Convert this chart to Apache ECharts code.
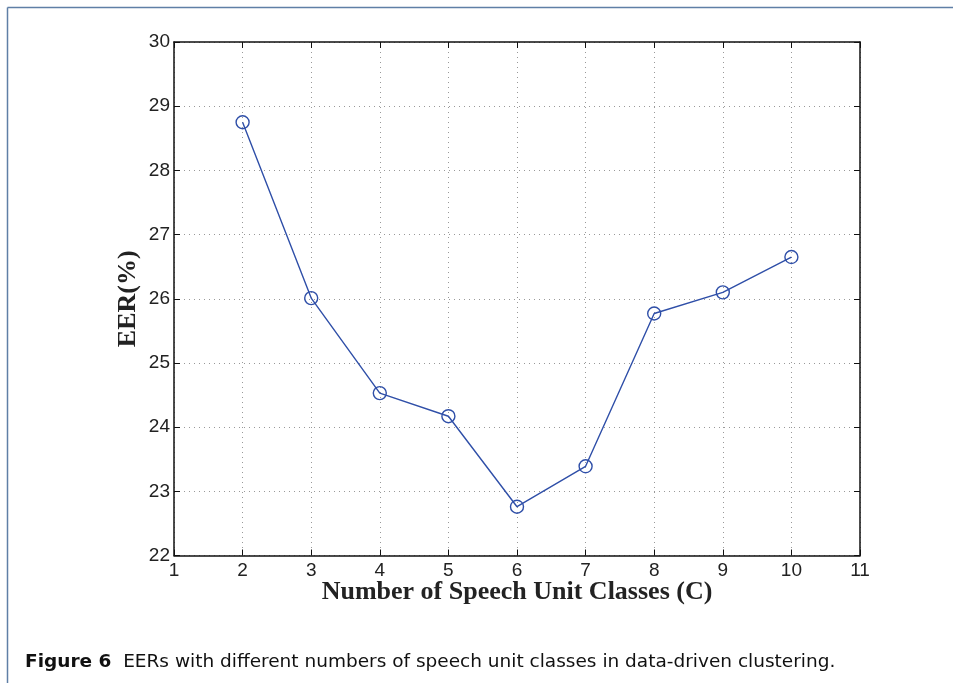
<!DOCTYPE html>
<html>
<head>
<meta charset="utf-8">
<script src="https://cdn.jsdelivr.net/npm/echarts@6/dist/echarts.min.js"></script>
<style>
  html, body { margin: 0; padding: 0; background: #fff; }
  #chart { width: 953px; height: 683px; }
</style>
</head>
<body>
<div id="chart"></div>
<script>
var chart = echarts.init(document.getElementById('chart'));

// number of speech unit classes (C) and EER(%)
var classes = [2, 3, 4, 5, 6, 7, 8, 9, 10];
var eer = [28.75, 26.01, 24.53, 24.17, 22.76, 23.39, 25.77, 26.10, 26.65];

var seriesData = classes.map(function (c, i) { return [c, eer[i]]; });

var tickFont = { fontFamily: 'Liberation Sans, Arial, sans-serif', fontSize: 19, color: '#222' };
var gridDots = { show: true, lineStyle: { color: '#999', type: [1, 4], width: 1 } };
var frameColor = '#5f7fa6';

var option = {
    backgroundColor: '#fff',
    animation: false,
    grid: { left: 174, right: 93, top: 42, bottom: 127.5, containLabel: false },
    xAxis: [
        {
            type: 'value', min: 1, max: 11, interval: 1,
            name: 'Number of Speech Unit Classes (C)',
            nameLocation: 'middle', nameGap: 24, nameMoveOverlap: false,
            nameTextStyle: { fontFamily: 'Liberation Serif, Times New Roman, serif', fontWeight: 'bold', fontSize: 26, color: '#222' },
            axisLine: { onZero: false, lineStyle: { color: '#111', width: 1.5 } },
            axisTick: { inside: true, length: 6, lineStyle: { color: '#111' } },
            axisLabel: Object.assign({ margin: 6 }, tickFont),
            splitLine: gridDots
        },
        {
            type: 'value', min: 1, max: 11, interval: 1, position: 'top',
            axisLine: { onZero: false, lineStyle: { color: '#111', width: 1.5 } },
            axisTick: { inside: true, length: 6, lineStyle: { color: '#111' } },
            axisLabel: { show: false },
            splitLine: { show: false }
        }
    ],
    yAxis: [
        {
            type: 'value', min: 22, max: 30, interval: 1,
            name: 'EER(%)',
            nameLocation: 'middle', nameGap: 33, nameMoveOverlap: false,
            nameTextStyle: { fontFamily: 'Liberation Serif, Times New Roman, serif', fontWeight: 'bold', fontSize: 26, color: '#222' },
            axisLine: { onZero: false, lineStyle: { color: '#111', width: 1.5 } },
            axisTick: { inside: true, length: 6, lineStyle: { color: '#111' } },
            axisLabel: Object.assign({ margin: 4 }, tickFont),
            splitLine: gridDots
        },
        {
            type: 'value', min: 22, max: 30, interval: 1, position: 'right',
            axisLine: { onZero: false, lineStyle: { color: '#111', width: 1.5 } },
            axisTick: { inside: true, length: 6, lineStyle: { color: '#111' } },
            axisLabel: { show: false },
            splitLine: { show: false }
        }
    ],
    series: [
        {
            type: 'line',
            data: seriesData,
            symbol: 'circle',
            symbolSize: 13,
            lineStyle: { color: '#2f4fa8', width: 1.4 },
            itemStyle: { color: 'rgba(0,0,0,0)', borderColor: '#2f4fa8', borderWidth: 1.4 },
            z: 5
        }
    ],
    graphic: [
        { type: 'line', shape: { x1: 7.5, y1: 7.5, x2: 953, y2: 7.5 }, style: { stroke: frameColor, lineWidth: 1.5 } },
        { type: 'line', shape: { x1: 7.5, y1: 7.5, x2: 7.5, y2: 683 }, style: { stroke: frameColor, lineWidth: 1.5 } },
        {
            type: 'text', left: 25, top: 653,
            style: {
                text: '{b|Figure 6}  EERs with different numbers of speech unit classes in data-driven clustering.',
                rich: {
                    b: { fontWeight: 'bold', fontFamily: 'DejaVu Sans, sans-serif', fontSize: 18.5, fill: '#111' }
                },
                fontFamily: 'DejaVu Sans, sans-serif', fontSize: 18.5, fill: '#111'
            }
        }
    ]
};

chart.setOption(option);
</script>
</body>
</html>
